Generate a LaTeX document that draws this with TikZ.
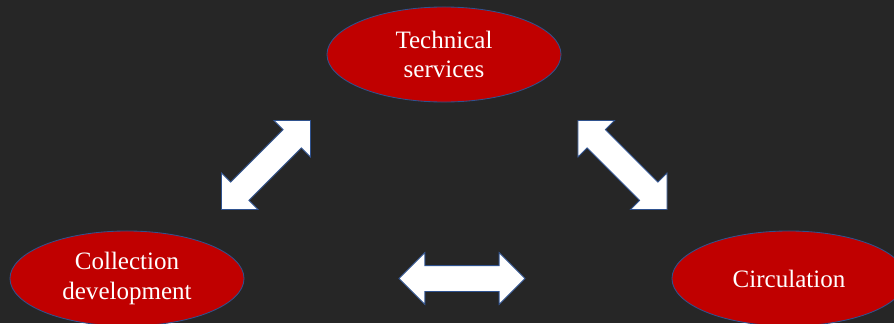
\documentclass[tikz,border=0pt]{standalone}
\usepackage{fontspec}
\setmainfont{Liberation Serif}
\usetikzlibrary{shapes.geometric,shapes.arrows}
\definecolor{slide}{RGB}{38,38,38}
\definecolor{unitred}{RGB}{192,0,0}
\definecolor{rim}{RGB}{47,82,143}

\begin{document}
\begin{tikzpicture}[x=0.025cm,y=-0.025cm,
  unit/.style={ellipse, fill=unitred, draw=rim, line width=0.6pt,
    minimum width=5.85cm, minimum height=2.375cm, inner sep=0pt,
    text=white, align=center, font=\fontsize{17.8}{21}\selectfont},
  link/.style={double arrow, fill=white, draw=rim, line width=0.6pt,
    minimum height=3.15cm, inner xsep=0pt, inner ysep=0.3125cm,
    double arrow head extend=0.325cm}]
  \fill[slide] (0,0) rectangle (894,323); % background
  \useasboundingbox (0,0) rectangle (894,323);

  \node[unit] (tech) at (444,54.5) {Technical\\services};
  \node[unit] (coll) at (127,278.5) {Collection\\development};
  \node[unit] (circ) at (789,278.5) {Circulation};

  \node[link, rotate=45] (techcoll) at (266,165) {}; % tech <-> coll
  \node[link, rotate=-45] (techcirc) at (622.5,165) {}; % tech <-> circ
  \node[link] (collcirc) at (462,278.5) {}; % coll <-> circ
\end{tikzpicture}
\end{document}
